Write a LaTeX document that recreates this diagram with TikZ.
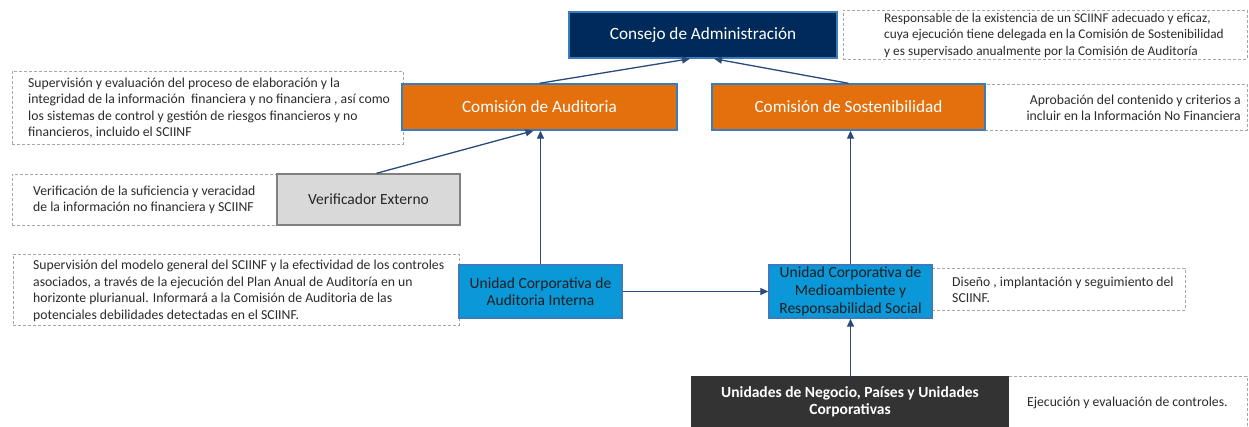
\documentclass[tikz,border=0pt]{standalone}
\usepackage{fontspec}
\setmainfont{Carlito}
\usetikzlibrary{arrows.meta}
\definecolor{navy}{HTML}{002A5A}
\definecolor{orangebox}{HTML}{E3700C}
\definecolor{bluebox}{HTML}{0A98D8}
\definecolor{graybox}{HTML}{D9D9D9}
\definecolor{darkbox}{HTML}{333333}
\definecolor{edgeblue}{HTML}{3A7CC0}
\definecolor{arrowc}{HTML}{2A4A7A}
\definecolor{dashc}{HTML}{A6A6A6}
\definecolor{notetext}{HTML}{2B2B2B}
\tikzset{
  unitbox/.style={draw, line width=1.4pt, inner sep=1pt, align=center,
    font=\fontsize{15.5}{17}\selectfont},
  bigunit/.style={unitbox, font=\fontsize{17.2}{19}\selectfont},
  notebox/.style={draw=dashc, dashed, line width=1pt, dash pattern=on 3pt off 2pt, inner sep=0pt},
  notetxt/.style={inner sep=0pt, text=notetext, font=\fontsize{13.7}{16.5}\selectfont},
  conn/.style={draw=arrowc, line width=1.3pt, -{Triangle[length=8pt,width=7pt]}}
}
\begin{document}
\begin{tikzpicture}[x=1pt,y=-1pt]
\useasboundingbox (0,0) rectangle (1249,426);
\clip (0,0) rectangle (1249,426);
\fill[white] (0,0) rectangle (1249,426);
% dashed note boxes
\node[notebox, minimum width=404pt, minimum height=49pt] (consN) at (1045,34.5) {};
\node[notebox, minimum width=391pt, minimum height=73pt] (audN) at (207.5,107.5) {};
\node[notebox, minimum width=262pt, minimum height=46pt] (sostN) at (1116,107) {};
\node[notebox, minimum width=265pt, minimum height=51pt] (verN) at (144.5,199.5) {};
\node[notebox, minimum width=446pt, minimum height=71pt] (uaiN) at (236,289.5) {};
\node[notebox, minimum width=253pt, minimum height=42pt] (medN) at (1058.5,289) {};
\node[notebox, minimum width=239pt, minimum height=56pt] (unN) at (1127.5,404) {};
% note texts
\node[notetxt, anchor=west, align=left, font=\fontsize{13.3}{16.5}\selectfont] (consT) at (884,35) {Responsable de la existencia de un SCIINF adecuado y eficaz,\\cuya ejecución tiene delegada en la Comisión de Sostenibilidad\\y es supervisado anualmente por la Comisión de Auditoría};
\node[notetxt, anchor=west, align=left] (audT) at (28,108) {Supervisión y evaluación del proceso de elaboración y la\\integridad de la información\ \ financiera y no financiera , así como\\los sistemas de control y gestión de riesgos financieros y no\\financieros, incluido el SCIINF};
\node[notetxt, anchor=east, align=right] (sostT) at (1241,108) {Aprobación del contenido y criterios a\\incluir en la Información No Financiera};
\node[notetxt, anchor=west, align=left] (verT) at (33,200) {Verificación de la suficiencia y veracidad\\de la información no financiera y SCIINF};
\node[notetxt, anchor=west, align=left] (uaiT) at (33,291) {Supervisión del modelo general del SCIINF y la efectividad de los controles\\asociados, a través de la ejecución del Plan Anual de Auditoría en un\\horizonte plurianual. Informará a la Comisión de Auditoria de las\\potenciales debilidades detectadas en el SCIINF.};
\node[notetxt, anchor=west, align=left] (medT) at (952,290) {Diseño , implantación y seguimiento del\\SCIINF.};
\node[notetxt, anchor=west, align=left] (unT) at (1027,403) {Ejecución y evaluación de controles.};
% unit boxes
\node[bigunit, fill=navy, draw=edgeblue, text=white, minimum width=268pt, minimum height=46pt] (cons) at (703,35) {Consejo de Administración};
\node[bigunit, fill=orangebox, draw=edgeblue, text=white, minimum width=275pt, minimum height=46pt] (aud) at (539.5,107) {Comisión de Auditoria};
\node[bigunit, fill=orangebox, draw=edgeblue, text=white, minimum width=273pt, minimum height=46pt] (sost) at (848.5,107) {Comisión de Sostenibilidad};
\node[unitbox, fill=graybox, draw=gray, text=black!85, minimum width=183pt, minimum height=51pt] (ver) at (368.5,199.5) {Verificador Externo};
\node[unitbox, fill=bluebox, draw=edgeblue, text=black!88, minimum width=163pt, minimum height=53pt] (uai) at (540.5,291.5) {Unidad Corporativa de\\Auditoria Interna};
\node[unitbox, fill=bluebox, draw=edgeblue, text=black!88, minimum width=163pt, minimum height=53pt, font=\fontsize{15.5}{18}\selectfont] (med) at (850.5,291.5) {Unidad Corporativa de\\Medioambiente y\\Responsabilidad Social};
\node[unitbox, fill=darkbox, draw=darkbox, text=white, minimum width=316pt, minimum height=60pt, text depth=12pt, font=\bfseries\fontsize{15.5}{17}\selectfont] (un) at (850,407) {Unidades de Negocio, Países y Unidades\\Corporativas};
% connectors
\draw[conn] (aud.north) -- ([xshift=-13pt]cons.south);
\draw[conn] (sost.north) -- ([xshift=11pt]cons.south);
\draw[conn] ([xshift=8pt]ver.north) -- ([xshift=-6pt]aud.south);
\draw[conn] (uai.north) -- (uai.north |- aud.south);
\draw[conn] (uai.east) -- (med.west);
\draw[conn] (med.north) -- (med.north |- sost.south);
\draw[conn] (un.north -| med.south) -- (med.south);
\end{tikzpicture}
\end{document}
